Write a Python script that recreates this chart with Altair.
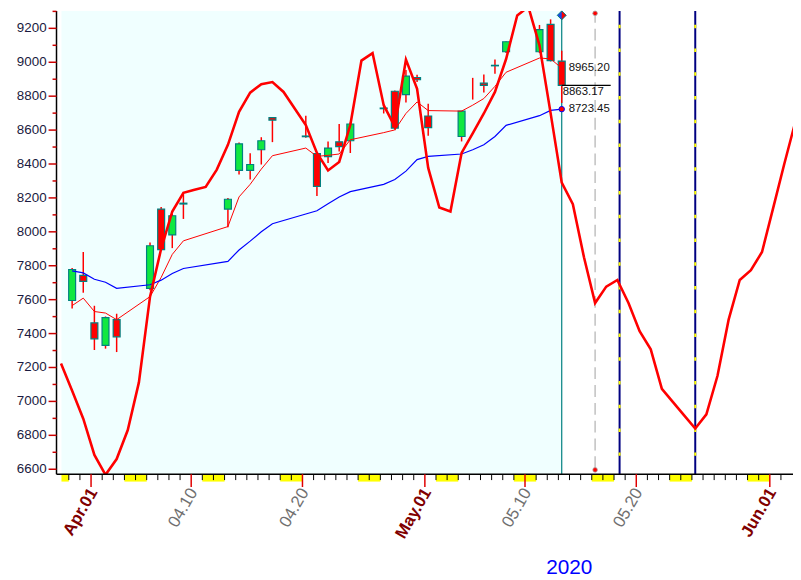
import altair as alt
import pandas as pd

# ---------------- data ----------------
dates = ["2020-03-30", "2020-03-31", "2020-04-01", "2020-04-02", "2020-04-03",
         "2020-04-06", "2020-04-07", "2020-04-08", "2020-04-09",
         "2020-04-13", "2020-04-14", "2020-04-15", "2020-04-16", "2020-04-17",
         "2020-04-20", "2020-04-21", "2020-04-22", "2020-04-23", "2020-04-24",
         "2020-04-27", "2020-04-28", "2020-04-29", "2020-04-30", "2020-05-01",
         "2020-05-04", "2020-05-05", "2020-05-06", "2020-05-07", "2020-05-08",
         "2020-05-11", "2020-05-12", "2020-05-13"]
opens = [7595, 7743, 7463, 7330, 7482,
         7667, 8134, 7982, 8169,
         8134, 8362, 8362, 8484, 8673,
         8565, 8461, 8443, 8531, 8537,
         8730, 8829, 8809, 8910, 8683,
         8562, 8809, 8877, 8982, 9062,
         9062, 9223, 9007]
highs = [7787, 7881, 7564, 7501, 7517,
         7937, 8147, 8105, 8225,
         8200, 8527, 8463, 8558, 8675,
         8685, 8466, 8533, 8636, 8645,
         8750, 8833, 8955, 8926, 8756,
         8714, 8908, 8928, 9016, 9123,
         9220, 9253, 9068]
lows = [7548, 7641, 7303, 7311, 7291,
        7655, 7887, 7904, 8076,
        8027, 8338, 8309, 8397, 8529,
        8555, 8212, 8406, 8474, 8465,
        8698, 8603, 8762, 8883, 8566,
        8533, 8780, 8821, 8932, 9055,
        9055, 9005, 8760]
closes = [7778, 7708, 7369, 7494, 7381,
          7918, 7895, 8095, 8164,
          8192, 8519, 8397, 8537, 8659,
          8561, 8268, 8494, 8502, 8636,
          8726, 8612, 8918, 8897, 8614,
          8712, 8809, 8864, 8979, 9121,
          9192, 9010, 8863.17]
ma_fast = [7565, 7609, 7530, 7521, 7482,
           7618, 7731, 7867, 7947,
           8031, 8206, 8280, 8370, 8449,
           8494, 8445, 8451, 8459, 8543,
           8585, 8601, 8698, 8766, 8715,
           8712, 8747, 8786, 8858, 8941,
           9025, 9020, 8965.20]
ma_slow = [7770, 7758, 7720, 7703, 7667,
           7688, 7715, 7754, 7784,
           7826, 7893, 7945, 8000, 8048,
           8105, 8124, 8165, 8205, 8237,
           8280, 8309, 8358, 8426, 8445,
           8459, 8484, 8513, 8562, 8628,
           8685, 8716, 8723.45]

cycle_start = "2020-03-29"
cycle_values = [7223, 7063, 6898, 6684, 6567, 6660, 6831, 7112, 7618, 7900,
                8120, 8230, 8248, 8265, 8367, 8513, 8708, 8821, 8871, 8883,
                8825, 8727, 8630, 8465, 8362, 8412, 8630, 9010, 9054, 8747,
                8620, 9016, 8844, 8377, 8143, 8120, 8465, 8581, 8698, 8825,
                9019, 9276, 9327, 9100, 8700, 8290, 8163, 7850, 7580, 7677,
                7716, 7580, 7414, 7307, 7074, 6996, 6918, 6840, 6924, 7151,
                7482, 7716, 7774, 7881, 8140, 8400, 8650]

label_dates = ["2020-04-01", "2020-04-10", "2020-04-20", "2020-05-01",
               "2020-05-10", "2020-05-20", "2020-06-01"]
label_texts = ["Apr.01", "04.10", "04.20", "May.01", "05.10", "05.20", "Jun.01"]
label_major = [True, False, False, True, False, False, True]
year_text = "2020"

gray_line_date = "2020-05-16"
navy_line_dates = ["2020-05-18 04:48", "2020-05-25"]
y_major = list(range(6600, 9201, 200))
y_minor = list(range(6700, 9301, 200))

# ---------------- helpers ----------------
BASE = pd.Timestamp("2020-04-01")
OFFSET = 0.3          # bars sit a little right of their day tick
W, H = 744, 468
XDOM = [-2.66, 62.64]
YDOM = [6571, 9303]
FONT = "Liberation Sans, Arial, sans-serif"
GREEN = "#10E840"
RED = "#FF0000"
TEAL = "#008080"


def dnum(s):
    return (pd.Timestamp(s) - BASE) / pd.Timedelta(days=1)


XS = alt.Scale(domain=XDOM, nice=False, zero=False)
YS = alt.Scale(domain=YDOM, nice=False, zero=False)


def X(f="x"):
    return alt.X(f"{f}:Q", scale=XS, axis=None)


def Y(f):
    return alt.Y(f"{f}:Q", scale=YS, axis=None)


candles = pd.DataFrame({"date": dates, "open": opens, "high": highs, "low": lows,
                        "close": closes, "maf": ma_fast, "mas": ma_slow})
candles["x"] = [dnum(d) + OFFSET for d in dates]
bodies = candles[candles["open"] != candles["close"]]
last = candles.iloc[-1]
x_last = float(last["x"])

cyc_dates = pd.date_range(cycle_start, periods=len(cycle_values), freq="D")
cycle = pd.DataFrame({"x": [dnum(d) + OFFSET for d in cyc_dates], "v": cycle_values})

all_days = pd.date_range("2020-03-20", "2020-06-10", freq="D")
label_x = [dnum(d) for d in label_dates]
tick_vals = [dnum(d) for d in all_days
             if XDOM[0] <= dnum(d) <= XDOM[1] and dnum(d) not in label_x]
sats = [dnum(d) for d in all_days if d.weekday() == 5]
weekends = pd.DataFrame({"x": [max(s, XDOM[0]) for s in sats],
                         "x2": [min(s + 2, XDOM[1]) for s in sats]})
weekends = weekends[weekends["x2"] > weekends["x"]]

labels = pd.DataFrame({"x": label_x, "text": label_texts, "major": label_major})
one = pd.DataFrame({"t": [year_text]})

# ---------------- layers ----------------
bg = alt.Chart(pd.DataFrame({"x0": [XDOM[0]], "x": [x_last]})).mark_rect(
    color="#F0FFFF").encode(x=X("x0"), x2="x:Q", y=alt.value(0), y2=alt.value(H))

weekend_bars = alt.Chart(weekends).mark_rect(color="#FFFF00").encode(
    x=X("x"), x2="x2:Q", y=alt.value(H), y2=alt.value(H + 7.5))

# hand-drawn axes
x_domain = alt.Chart(one).mark_rule(color="black", strokeWidth=1.5).encode(
    x=alt.value(0), x2=alt.value(W), y=alt.value(H))
y_domain = alt.Chart(one).mark_rule(color="black", strokeWidth=1.5).encode(
    x=alt.value(0), y=alt.value(0), y2=alt.value(H))
x_ticks = alt.Chart(pd.DataFrame({"x": tick_vals})).mark_rule(
    color="black", strokeWidth=1).encode(x=X(), y=alt.value(H), y2=alt.value(H + 6))
red_ticks = alt.Chart(labels).mark_rule(color="#E00000", strokeWidth=1.5).encode(
    x=X("x"), y=alt.value(H), y2=alt.value(H + 13))
ymaj_df = pd.DataFrame({"v": y_major, "t": [str(v) for v in y_major]})
y_major_ticks = alt.Chart(ymaj_df).mark_rule(color="#CC0000", strokeWidth=1.5).encode(
    x=alt.value(-8), x2=alt.value(0), y=Y("v"))
y_minor_ticks = alt.Chart(pd.DataFrame({"v": y_minor})).mark_rule(
    color="#CC0000", strokeWidth=1.5).encode(
    x=alt.value(-4), x2=alt.value(0), y=Y("v"))
y_labels = alt.Chart(ymaj_df).mark_text(align="right", baseline="middle", font=FONT,
                                        fontSize=13.5, color="#1a1a40").encode(
    x=alt.value(-10), y=Y("v"), text="t:N")
year_label = alt.Chart(one).mark_text(align="center", baseline="middle", font=FONT,
                                      fontSize=21, color="#0000FF").encode(
    x=alt.value(518), y=alt.value(H + 95), text="t:N")

teal_line = alt.Chart(pd.DataFrame({"x": [x_last]})).mark_rule(
    color=TEAL, strokeWidth=1.2).encode(x=X(), y=alt.value(0), y2=alt.value(H))

gray_df = pd.DataFrame({"x": [dnum(gray_line_date) + OFFSET]})
gray_line = alt.Chart(gray_df).mark_rule(
    color="#C0C0C0", strokeWidth=1.5, strokeDash=[12, 6]).encode(
    x=X(), y=alt.value(0), y2=alt.value(H))

navy_df = pd.DataFrame({"x": [dnum(d) + OFFSET for d in navy_line_dates]})
navy_lines = alt.Chart(navy_df).mark_rule(color="#000080", strokeWidth=2).encode(
    x=X(), y=alt.value(0), y2=alt.value(H))
navy_yellow = alt.Chart(navy_df).mark_rule(
    color="#FFFF00", strokeWidth=2, strokeDash=[3.5, 20.5], strokeDashOffset=10).encode(
    x=X(), y=alt.value(0), y2=alt.value(H))

wicks = alt.Chart(candles).mark_rule(color=RED, strokeWidth=1.5).encode(
    x=X(), y=Y("low"), y2="high:Q")

body = alt.Chart(bodies).mark_bar(size=7, stroke=TEAL, strokeWidth=1.2,
                                  orient="vertical").encode(
    x=X(), y=Y("open"), y2="close:Q",
    color=alt.condition("datum.close >= datum.open", alt.value(GREEN), alt.value(RED)))

fast_line = alt.Chart(candles).mark_line(color=RED, strokeWidth=1).encode(
    x=X(), y=Y("maf"))
slow_line = alt.Chart(candles).mark_line(color="#0000FF", strokeWidth=1.2).encode(
    x=X(), y=Y("mas"))

cycle_line = alt.Chart(cycle).mark_line(color=RED, strokeWidth=2.6, clip=True).encode(
    x=X(), y=Y("v"))

last_df = pd.DataFrame({"x": [x_last], "close": [float(last["close"])],
                        "maf": [float(last["maf"])], "mas": [float(last["mas"])],
                        "x2": [x_last + 4.4]})
last_df["t_close"] = last_df["close"].map(lambda v: f"{v:.2f}")
last_df["t_maf"] = last_df["maf"].map(lambda v: f"{v:.2f}")
last_df["t_mas"] = last_df["mas"].map(lambda v: f"{v:.2f}")

close_rule = alt.Chart(last_df).mark_rule(color="black", strokeWidth=1.2).encode(
    x=X(), x2="x2:Q", y=Y("close"))
t_maf = alt.Chart(last_df).mark_text(align="left", baseline="middle", dx=7,
                                     font=FONT, fontSize=11.5, color="#111111").encode(
    x=X(), y=Y("maf"), text="t_maf:N")
t_close = alt.Chart(last_df).mark_text(align="left", baseline="middle", dx=1, dy=7,
                                       font=FONT, fontSize=11.5, color="#111111").encode(
    x=X(), y=Y("close"), text="t_close:N")
t_mas = alt.Chart(last_df).mark_text(align="left", baseline="middle", dx=7,
                                     font=FONT, fontSize=11.5, color="#111111").encode(
    x=X(), y=Y("mas"), text="t_mas:N")
mas_dot = alt.Chart(last_df).mark_point(filled=True, size=30, fill=RED, stroke="#0000FF",
                                        strokeWidth=1, opacity=1).encode(
    x=X(), y=Y("mas"))

dia_blue = alt.Chart(last_df).mark_point(shape="diamond", filled=True, size=81,
                                         color="#1E46E6", opacity=1).encode(
    x=X(), y=alt.value(4.5))
dia_red = alt.Chart(last_df).mark_point(shape="M0,-1L1,0L0,1Z", filled=True, size=81,
                                        color=RED, opacity=1).encode(
    x=X(), y=alt.value(4.5))
dia_edge = alt.Chart(last_df).mark_point(shape="diamond", filled=False, size=81,
                                         color=TEAL, strokeWidth=1, opacity=1).encode(
    x=X(), y=alt.value(4.5))

dot_top = alt.Chart(gray_df).mark_point(filled=True, size=22, fill=RED, stroke="#AAAAAA",
                                        strokeWidth=0.8, opacity=1).encode(
    x=X(), y=alt.value(2.5))
dot_bot = alt.Chart(gray_df).mark_point(filled=True, size=22, fill=RED, stroke="#AAAAAA",
                                        strokeWidth=0.8, opacity=1).encode(
    x=X(), y=alt.value(463.7))

lab_major = alt.Chart(labels[labels["major"]]).mark_text(
    angle=300, align="right", baseline="middle", dx=5, font=FONT, fontSize=17,
    fontWeight="bold", color="#800000").encode(
    x=X(), y=alt.value(H + 20), text="text:N")
lab_minor = alt.Chart(labels[~labels["major"]]).mark_text(
    angle=300, align="right", baseline="middle", dx=5, font=FONT, fontSize=17,
    fontWeight="normal", color="#707070").encode(
    x=X(), y=alt.value(H + 20), text="text:N")

chart = alt.layer(
    bg, weekend_bars, teal_line, gray_line, navy_lines, navy_yellow,
    wicks, body, fast_line, slow_line, cycle_line,
    close_rule, t_maf, t_close, t_mas, mas_dot,
    dia_blue, dia_red, dia_edge, dot_top, dot_bot,
    x_domain, y_domain, x_ticks, red_ticks, y_major_ticks, y_minor_ticks, y_labels,
    year_label, lab_major, lab_minor
).properties(
    width=W, height=H, background="white",
    autosize=alt.AutoSizeParams(type="none"),
    padding={"left": 49, "top": 0, "right": 0, "bottom": 102},
).configure_view(strokeWidth=0)

chart.save("out.html", embed_options={"renderer": "svg", "actions": False})
